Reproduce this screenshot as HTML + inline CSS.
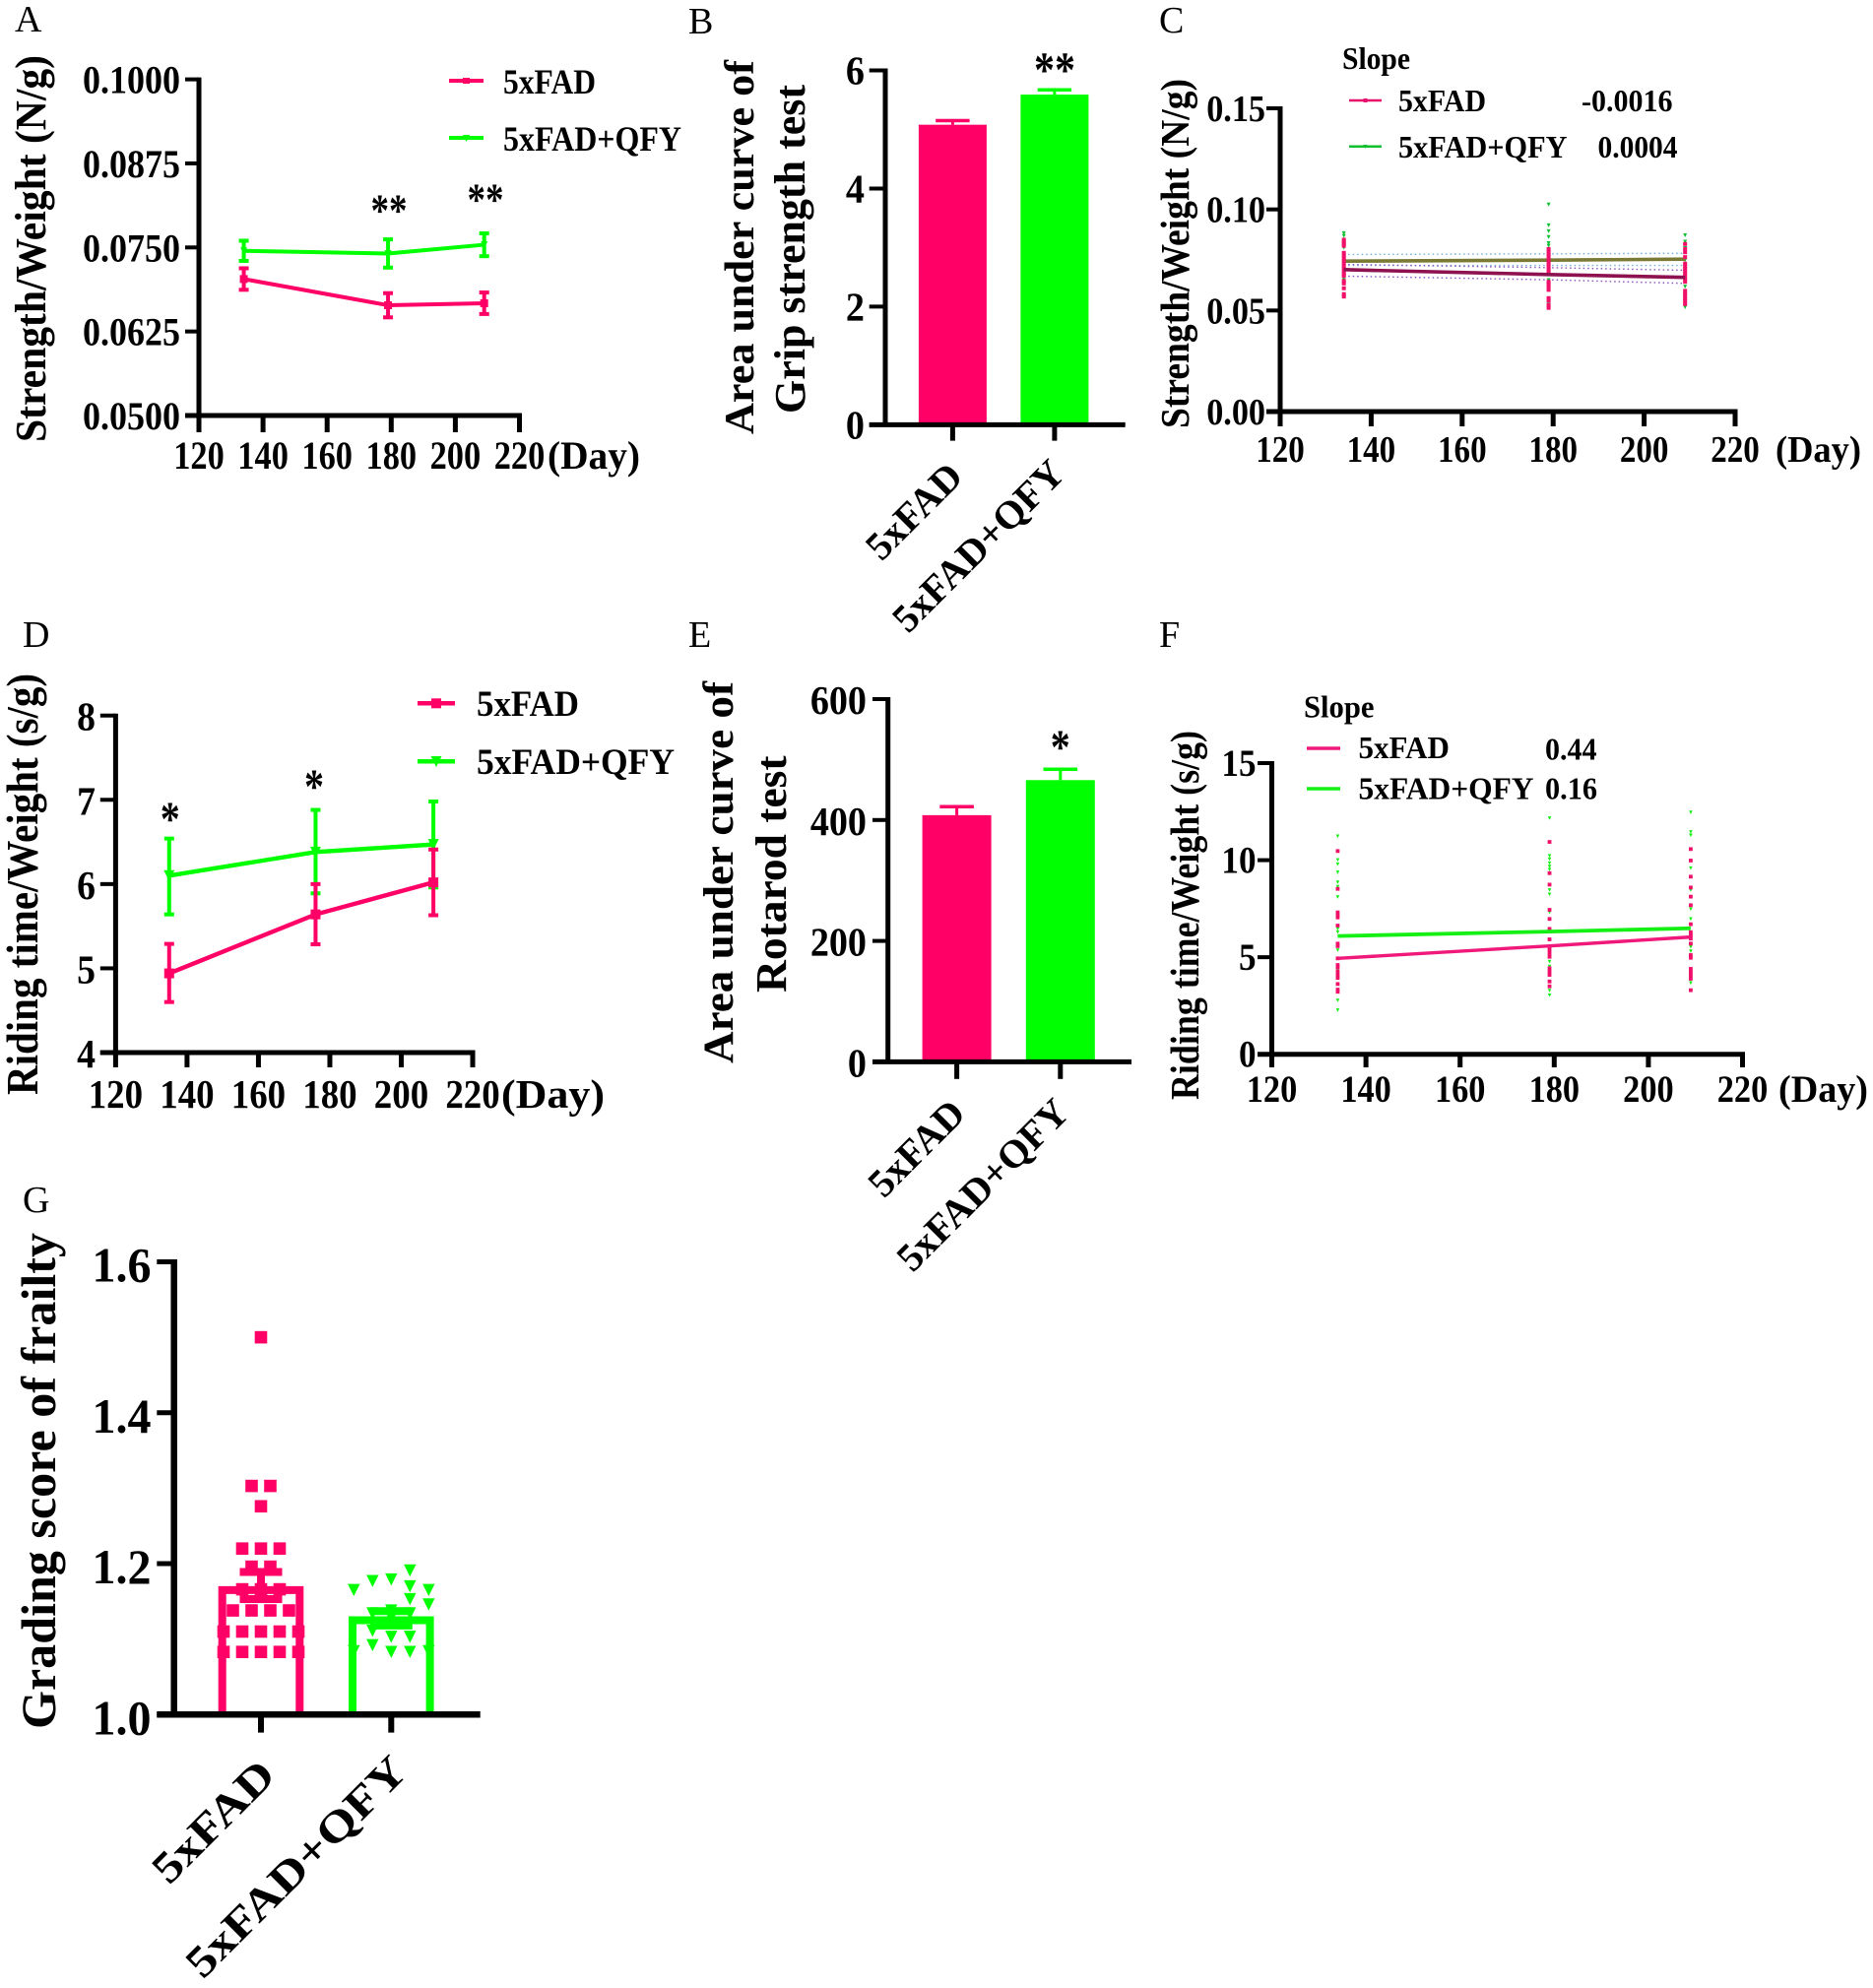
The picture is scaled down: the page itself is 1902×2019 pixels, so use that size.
<!DOCTYPE html>
<html lang="en">
<head>
<meta charset="utf-8">
<title>Grip strength, rotarod and frailty in 5xFAD mice</title>
<style>
  html, body { margin: 0; padding: 0; background: #fff; }
  svg { display: block; }
  text { font-family: "Liberation Serif", "Times New Roman", serif; fill: #000; }
  .b { font-weight: bold; }
</style>
</head>
<body>
<svg id="fig" xmlns="http://www.w3.org/2000/svg" width="1902" height="2019" viewBox="0 0 1902 2019">
  <rect x="0" y="0" width="1902" height="2019" fill="#fff"/>

  <g font-size="38">
    <text x="15" y="32">A</text>
    <text x="699" y="34">B</text>
    <text x="1177" y="33">C</text>
    <text x="23" y="657">D</text>
    <text x="699" y="657">E</text>
    <text x="1177" y="657">F</text>
    <text x="23" y="1231">G</text>
  </g>

  <g id="panel-a">
    <text class="b" font-size="44" transform="translate(46,449) rotate(-90)" textLength="393" lengthAdjust="spacingAndGlyphs">Strength/Weight (N/g)</text>
    <text class="b" font-size="40" x="556" y="476" textLength="94" lengthAdjust="spacingAndGlyphs">(Day)</text>
    <line x1="456" x2="491" y1="82" y2="82" stroke="#ff0066" stroke-width="4"/>
    <rect x="470" y="79" width="7" height="6" fill="#ff0066"/>
    <text class="b" font-size="36" x="511" y="95" textLength="94" lengthAdjust="spacingAndGlyphs">5xFAD</text>
    <line x1="456" x2="491" y1="140" y2="140" stroke="#00ff00" stroke-width="4"/>
    <polygon points="470,137 477,137 473.5,144" fill="#00ff00"/>
    <text class="b" font-size="36" x="511" y="153" textLength="181" lengthAdjust="spacingAndGlyphs">5xFAD+QFY</text>
    <text class="b" font-size="37" transform="translate(395,229) scale(1,1.25)" text-anchor="middle">**</text>
    <text class="b" font-size="37" transform="translate(493,218) scale(1,1.25)" text-anchor="middle">**</text>
  </g>

  <g id="panel-b">
    <text class="b" font-size="42" transform="translate(765,441) rotate(-90)" textLength="380" lengthAdjust="spacingAndGlyphs">Area under curve of</text>
    <text class="b" font-size="44" transform="translate(817,420) rotate(-90)" textLength="334" lengthAdjust="spacingAndGlyphs">Grip strength test</text>
    <text class="b" font-size="42" transform="translate(1071,88) scale(1,1.2)" text-anchor="middle">**</text>
    <text class="b" font-size="40" text-anchor="end" transform="translate(980,486) rotate(-45)" textLength="120" lengthAdjust="spacingAndGlyphs">5xFAD</text>
    <text class="b" font-size="40" text-anchor="end" transform="translate(1083.5,483) rotate(-45)" textLength="228" lengthAdjust="spacingAndGlyphs">5xFAD+QFY</text>
  </g>

  <g id="panel-c">
    <text class="b" font-size="41" transform="translate(1207,435) rotate(-90)" textLength="355" lengthAdjust="spacingAndGlyphs">Strength/Weight (N/g)</text>
    <text class="b" font-size="38" x="1803" y="469" textLength="87" lengthAdjust="spacingAndGlyphs">(Day)</text>
    <text class="b" font-size="32" x="1363" y="70" textLength="69" lengthAdjust="spacingAndGlyphs">Slope</text>
    <line x1="1370" x2="1403" y1="102" y2="102" stroke="#e8126e" stroke-width="2.5"/>
    <rect x="1384.5" y="100" width="4" height="4" fill="#e8126e"/>
    <text class="b" font-size="32" x="1420" y="113" textLength="89" lengthAdjust="spacingAndGlyphs">5xFAD</text>
    <text class="b" font-size="32" x="1606" y="113" textLength="92.5" lengthAdjust="spacingAndGlyphs">-0.0016</text>
    <line x1="1370" x2="1403" y1="148.7" y2="148.7" stroke="#10c030" stroke-width="2.5"/>
    <polygon points="1384.5,147 1388.5,147 1386.5,151" fill="#10c030"/>
    <text class="b" font-size="32" x="1420" y="160" textLength="171.5" lengthAdjust="spacingAndGlyphs">5xFAD+QFY</text>
    <text class="b" font-size="32" x="1622.5" y="160" textLength="81" lengthAdjust="spacingAndGlyphs">0.0004</text>
  </g>

  <g id="panel-d">
    <text class="b" font-size="45" transform="translate(38,1112) rotate(-90)" textLength="428" lengthAdjust="spacingAndGlyphs">Riding time/Weight (s/g)</text>
    <text class="b" font-size="41" x="509" y="1125" textLength="105" lengthAdjust="spacingAndGlyphs">(Day)</text>
    <line x1="424" x2="462" y1="714.3" y2="714.3" stroke="#ff0066" stroke-width="4.5"/>
    <rect x="438" y="709.3" width="10" height="10" fill="#ff0066"/>
    <text class="b" font-size="37" x="484" y="727" textLength="104" lengthAdjust="spacingAndGlyphs">5xFAD</text>
    <line x1="424" x2="462" y1="773.3" y2="773.3" stroke="#00ff00" stroke-width="4.5"/>
    <polygon points="437.5,768 448.5,768 443,779" fill="#00ff00"/>
    <text class="b" font-size="37" x="484" y="786" textLength="201" lengthAdjust="spacingAndGlyphs">5xFAD+QFY</text>
    <text class="b" font-size="40" transform="translate(172.8,848) scale(1,1.25)" text-anchor="middle">*</text>
    <text class="b" font-size="40" transform="translate(319,815) scale(1,1.25)" text-anchor="middle">*</text>
  </g>

  <g id="panel-e">
    <text class="b" font-size="43" transform="translate(744,1080) rotate(-90)" textLength="388" lengthAdjust="spacingAndGlyphs">Area under curve of</text>
    <text class="b" font-size="44" transform="translate(798,1008) rotate(-90)" textLength="240.5" lengthAdjust="spacingAndGlyphs">Rotarod test</text>
    <text class="b" font-size="40" transform="translate(1076.7,775) scale(1,1.25)" text-anchor="middle">*</text>
    <text class="b" font-size="40" text-anchor="end" transform="translate(982.5,1133) rotate(-45)" textLength="120" lengthAdjust="spacingAndGlyphs">5xFAD</text>
    <text class="b" font-size="40" text-anchor="end" transform="translate(1088,1132) rotate(-45)" textLength="228" lengthAdjust="spacingAndGlyphs">5xFAD+QFY</text>
  </g>

  <g id="panel-f">
    <text class="b" font-size="41" transform="translate(1217,1117) rotate(-90)" textLength="375" lengthAdjust="spacingAndGlyphs">Riding time/Weight (s/g)</text>
    <text class="b" font-size="39" x="1806" y="1119" textLength="91" lengthAdjust="spacingAndGlyphs">(Day)</text>
    <text class="b" font-size="32" x="1324" y="728.3" textLength="71.5" lengthAdjust="spacingAndGlyphs">Slope</text>
    <line x1="1327" x2="1361" y1="760" y2="760" stroke="#f0187a" stroke-width="3.5"/>
    <text class="b" font-size="32" x="1379.5" y="770" textLength="92.4" lengthAdjust="spacingAndGlyphs">5xFAD</text>
    <text class="b" font-size="32" x="1569" y="771.7" textLength="52.5" lengthAdjust="spacingAndGlyphs">0.44</text>
    <line x1="1327" x2="1361" y1="801" y2="801" stroke="#14f014" stroke-width="3.5"/>
    <text class="b" font-size="32" x="1379.5" y="811.7" textLength="178" lengthAdjust="spacingAndGlyphs">5xFAD+QFY</text>
    <text class="b" font-size="32" x="1569" y="811.7" textLength="53" lengthAdjust="spacingAndGlyphs">0.16</text>
  </g>

  <g id="panel-g">
    <text class="b" font-size="50" transform="translate(56,1756) rotate(-90)" textLength="504" lengthAdjust="spacingAndGlyphs">Grading score of frailty</text>
    <text class="b" font-size="44" text-anchor="end" transform="translate(282,1805) rotate(-45)" textLength="156" lengthAdjust="spacingAndGlyphs">5xFAD</text>
    <text class="b" font-size="44" text-anchor="end" transform="translate(416,1801) rotate(-45)" textLength="297" lengthAdjust="spacingAndGlyphs">5xFAD+QFY</text>
  </g>
</svg>

<script>
/* ---------- Panel A: grip strength over time ---------- */
const aDays = [134, 179, 209];
const aPinkMean = [0.0703, 0.0664, 0.0667];
const aPinkErr = [0.0016, 0.0018, 0.0016];
const aGreenMean = [0.0745, 0.0741, 0.0754];
const aGreenErr = [0.0015, 0.0021, 0.0017];
const aYTicks = ['0.0500', '0.0625', '0.0750', '0.0875', '0.1000'];
const aXTicks = ['120', '140', '160', '180', '200', '220'];

/* ---------- Panel B: grip strength AUC ---------- */
const bValues = [5.08, 5.59];
const bErrors = [0.07, 0.08];
const bYTicks = ['0', '2', '4', '6'];

/* ---------- Panel C: grip strength regression ---------- */
const cDays = [134, 179, 209];
const cXTicks = ['120', '140', '160', '180', '200', '220'];
const cYTicks = ['0.00', '0.05', '0.10', '0.15'];
const cGreenFit = [0.0744, 0.0749, 0.0754];
const cPinkFit = [0.0702, 0.0678, 0.0664];
const cGreenBandHi = [0.0777, 0.0780, 0.0783];
const cGreenBandLo = [0.0723, 0.0723, 0.0723];
const cPinkBandHi = [0.0728, 0.0712, 0.0699];
const cPinkBandLo = [0.0670, 0.0652, 0.0634];
const cGreen134 = [0.0882, 0.0869, 0.0810, 0.0775, 0.0667, 0.0650];
const cGreen179 = [0.1024, 0.0921, 0.0892, 0.0863, 0.0833, 0.0820, 0.0650, 0.0528];
const cGreen209 = [0.0872, 0.0840, 0.0809, 0.0748, 0.0618, 0.0516];
const cPink134 = [0.0850, 0.0840, 0.0830, 0.0820, 0.0785, 0.0772, 0.0759, 0.0746, 0.0733, 0.0720, 0.0707, 0.0694, 0.0681, 0.0671, 0.0646, 0.0634, 0.0610, 0.0581, 0.0569];
const cPink179 = [0.0804, 0.0791, 0.0778, 0.0765, 0.0752, 0.0739, 0.0726, 0.0713, 0.0700, 0.0687, 0.0642, 0.0630, 0.0619, 0.0602, 0.0561, 0.0548, 0.0526, 0.0513];
const cPink209 = [0.0829, 0.0804, 0.0788, 0.0764, 0.0732, 0.0720, 0.0707, 0.0694, 0.0681, 0.0668, 0.0655, 0.0642, 0.0597, 0.0584, 0.0571, 0.0558, 0.0545, 0.0532];

/* ---------- Panel D: rotarod over time ---------- */
const dDays = [135, 176, 209];
const dPinkMean = [4.94, 5.64, 6.02];
const dPinkHi = [5.29, 6.00, 6.41];
const dPinkLo = [4.60, 5.285, 5.63];
const dGreenMean = [6.10, 6.38, 6.47];
const dGreenHi = [6.54, 6.88, 6.98];
const dGreenLo = [5.64, 5.89, 5.96];
const dYTicks = ['4', '5', '6', '7', '8'];
const dXTicks = ['120', '140', '160', '180', '200', '220'];

/* ---------- Panel E: rotarod AUC ---------- */
const eValues = [408, 466];
const eErrors = [14, 18];
const eYTicks = ['0', '200', '400', '600'];

/* ---------- Panel F: rotarod regression ---------- */
const fDays = [134, 179, 209];
const fXTicks = ['120', '140', '160', '180', '200', '220'];
const fYTicks = ['0', '5', '10', '15'];
const fGreenFit = [6.09, 6.32, 6.49];
const fPinkFit = [4.94, 5.58, 6.04];
const fGreen134 = [11.23, 10.01, 9.79, 9.37, 8.86, 8.63, 8.10, 6.46, 6.29, 5.36, 4.35, 2.77, 2.27];
const fGreen179 = [12.16, 10.22, 10.05, 9.84, 9.67, 9.51, 8.46, 8.24, 7.31, 4.77, 4.52, 3.28, 3.04];
const fGreen209 = [12.46, 11.45, 11.28, 9.59, 8.46, 7.48, 6.97, 5.53, 5.31, 3.67];
const fPink134 = [10.47, 8.52, 7.31, 7.17, 7.05, 6.63, 5.70, 5.57, 4.94, 4.60, 4.47, 4.26, 4.09, 3.93, 3.62, 3.33, 3.22];
const fPink179 = [10.94, 9.33, 8.74, 7.44, 6.97, 6.46, 5.92, 5.53, 5.36, 5.19, 5.02, 4.43, 4.26, 4.09, 3.75, 3.50];
const fPink209 = [10.57, 9.98, 9.15, 8.59, 8.12, 7.68, 6.70, 6.29, 6.12, 5.96, 5.70, 5.11, 4.97, 4.40, 4.23, 4.06, 3.89, 3.30];

/* ---------- Panel G: frailty score ---------- */
const gMeans = [1.165, 1.125];
const gHi = [1.189, 1.137];
const gLo = [1.153, 1.118];
const gYTicks = ['1.0', '1.2', '1.4', '1.6'];
const gPinkScores = [1.5, 1.303, 1.303, 1.276, 1.22, 1.22, 1.22, 1.196, 1.196, 1.166, 1.166, 1.166, 1.138, 1.138, 1.138, 1.138, 1.11, 1.11, 1.11, 1.11, 1.11, 1.083, 1.083, 1.083, 1.083, 1.083];
const gPinkSwarm = [0, -0.5, 0.5, 0, -1, 0, 1, -0.5, 0.5, -1, 0, 1, -1.5, -0.5, 0.5, 1.5, -2, -1, 0, 1, 2, -2, -1, 0, 1, 2];
const gGreenScores = [1.165, 1.177, 1.179, 1.191, 1.170, 1.153, 1.165, 1.146, 1.134, 1.138, 1.134, 1.111, 1.103, 1.103, 1.092, 1.083, 1.083, 1.084, 1.084];
const gGreenSwarm = [-2, -1, 0, 1, 1, 1, 2, 2, -1, 0, 1, -1, 0, 1, -1, 0, 1, -2, 2];

const PINK = '#ff0066';
const GREEN = '#00ff00';
const NS = 'http://www.w3.org/2000/svg';

function linear(d0, d1, r0, r1) {
  return function (v) { return r0 + (v - d0) * (r1 - r0) / (d1 - d0); };
}

function mk(parent, tag, attrs, name) {
  const el = document.createElementNS(NS, tag);
  for (const k in attrs) el.setAttribute(k, attrs[k]);
  
  
  parent.appendChild(el);
  return el;
}

function seg(parent, x1, y1, x2, y2, stroke, w, name) {
  return mk(parent, 'line', { x1: x1, y1: y1, x2: x2, y2: y2, stroke: stroke, 'stroke-width': w }, name);
}

function label(parent, str, x, y, size, anchor, squeeze, name) {
  const t = mk(parent, 'text', { transform: 'translate(' + x + ',' + y + ') scale(' + squeeze + ',1)', 'font-size': size, 'font-weight': 'bold', 'text-anchor': anchor }, name);
  t.textContent = str;
  return t;
}

function square(parent, cx, cy, s, fill, name) {
  return mk(parent, 'rect', { x: cx - s / 2, y: cy - s / 2, width: s, height: s, fill: fill }, name);
}

function triangle(parent, cx, cy, s, fill, name) {
  const pts = (cx - s / 2) + ',' + (cy - s / 2) + ' ' + (cx + s / 2) + ',' + (cy - s / 2) + ' ' + cx + ',' + (cy + s / 2);
  return mk(parent, 'polygon', { points: pts, fill: fill }, name);
}

/* y axis: spine, left ticks and labels */
function yAxis(g, c, ticks, sy) {
  const axis = mk(g, 'g', {}, 'y-axis');
  seg(axis, c.xLeft, c.yTop - c.tw / 2, c.xLeft, c.yBottom, '#000', c.lw, 'y-axis-line');
  ticks.forEach(function (t) {
    const y = sy(parseFloat(t));
    seg(axis, c.tickLeft, y, c.xLeft, y, '#000', c.tw, 'y-tick');
    label(axis, t, c.yLabelX, y + c.yLabelDy, c.yFont, 'end', c.ySqueeze, 'y-tick-label');
  });
}

/* numeric x axis: spine, down ticks and centred labels */
function xAxisNumeric(g, c, ticks, sx) {
  const axis = mk(g, 'g', {}, 'x-axis');
  seg(axis, c.tickLeft, c.yBottom, c.xRight + c.lw / 2, c.yBottom, '#000', c.lw, 'x-axis-line');
  ticks.forEach(function (t) {
    const x = sx(parseFloat(t));
    seg(axis, x, c.yBottom, x, c.tickBottom, '#000', c.tw + 1, 'x-tick');
    label(axis, t, x, c.xLabelY, c.xFont, 'middle', c.xSqueeze, 'x-tick-label');
  });
}

/* line chart with mean markers and error bars */
function lineSeries(g, days, mean, lo, hi, color, sx, sy, opt) {
  const s = mk(g, 'g', {}, opt.name + '-series');
  const pts = days.map(function (d, i) { return sx(d) + ',' + sy(mean[i]); }).join(' ');
  days.forEach(function (d, i) {
    const x = sx(d);
    seg(s, x, sy(lo[i]), x, sy(hi[i]), color, opt.ew, 'error-bar');
    seg(s, x - opt.cap, sy(lo[i]), x + opt.cap, sy(lo[i]), color, opt.ew, 'error-cap-low');
    seg(s, x - opt.cap, sy(hi[i]), x + opt.cap, sy(hi[i]), color, opt.ew, 'error-cap-high');
  });
  mk(s, 'polyline', { points: pts, fill: 'none', stroke: color, 'stroke-width': opt.lw }, 'series-line');
  days.forEach(function (d, i) {
    if (opt.marker === 'square') square(s, sx(d), sy(mean[i]), opt.ms, color, 'point');
    else triangle(s, sx(d), sy(mean[i]), opt.ms, color, 'point');
  });
}

/* filled bar chart */
function barChart(c, values, errors, ticks, colors) {
  const g = document.getElementById(c.id);
  const sy = linear(0, c.yMax, c.yBottom, c.yTop);
  values.forEach(function (v, i) {
    const x = c.cat0 + i * c.catStep;
    seg(g, x, sy(v), x, sy(v + errors[i]), colors[i], 3, 'error-bar');
    seg(g, x - c.cap, sy(v + errors[i]), x + c.cap, sy(v + errors[i]), colors[i], 3.5, 'error-cap');
    const y = sy(v);
    mk(g, 'rect', { x: x - c.barW / 2, y: y, width: c.barW, height: c.yBottom - y, fill: colors[i] }, 'bar-' + i);
  });
  yAxis(g, c, ticks, sy);
  seg(g, c.tickLeft, c.yBottom, c.xRight, c.yBottom, '#000', c.lw, 'x-axis-line');
  values.forEach(function (v, i) {
    const x = c.cat0 + i * c.catStep;
    seg(g, x, c.yBottom, x, c.tickBottom, '#000', c.tw + 1, 'x-tick');
  });
}

/* regression panel: scatter, fits and confidence bands */
function scatter(g, day, vals, shape, size, color, sx, sy, name) {
  vals.forEach(function (v) {
    if (shape === 'square') square(g, sx(day), sy(v), size, color, name);
    else triangle(g, sx(day), sy(v), size, color, name);
  });
}

function polyline(g, days, vals, sx, sy, attrs, name) {
  const a = Object.assign({ fill: 'none', points: days.map(function (d, i) { return sx(d) + ',' + sy(vals[i]); }).join(' ') }, attrs);
  return mk(g, 'polyline', a, name);
}

/* ---- A ---- */
(function () {
  const c = { xLeft: 202, xRight: 527.5, yTop: 80.6, yBottom: 422, tickLeft: 188, tickBottom: 439, lw: 5, tw: 4, yLabelX: 183, yLabelDy: 14, yFont: 40, ySqueeze: 0.9, xLabelY: 476, xFont: 40, xSqueeze: 0.86 };
  const g = document.getElementById('panel-a');
  const sx = linear(120, 220, c.xLeft, c.xRight);
  const sy = linear(0.05, 0.1, c.yBottom, c.yTop);
  yAxis(g, c, aYTicks, sy);
  xAxisNumeric(g, c, aXTicks, sx);
  const bounds = function (m, e, s) { return m.map(function (v, i) { return v + s * e[i]; }); };
  lineSeries(g, aDays, aGreenMean, bounds(aGreenMean, aGreenErr, -1), bounds(aGreenMean, aGreenErr, 1), GREEN, sx, sy, { name: 'qfy', ew: 4, cap: 5, lw: 4, ms: 7, marker: 'tri' });
  lineSeries(g, aDays, aPinkMean, bounds(aPinkMean, aPinkErr, -1), bounds(aPinkMean, aPinkErr, 1), PINK, sx, sy, { name: '5xfad', ew: 4, cap: 5, lw: 4, ms: 8, marker: 'square' });
})();

/* ---- B ---- */
barChart({ id: 'panel-b', yMax: 6, yTop: 71.5, yBottom: 431.4, xLeft: 899, xRight: 1142.7, tickLeft: 882.7, tickBottom: 447.6, lw: 5, tw: 4, yLabelX: 878, yLabelDy: 14, yFont: 41, ySqueeze: 0.93, cat0: 967.4, catStep: 103.5, barW: 69, cap: 17.2 }, bValues, bErrors, bYTicks, [PINK, GREEN]);

/* ---- C ---- */
(function () {
  const c = { xLeft: 1300, xRight: 1762, yTop: 110, yBottom: 418, tickLeft: 1286, tickBottom: 433, lw: 5, tw: 4, yLabelX: 1285, yLabelDy: 13, yFont: 38, ySqueeze: 0.9, xLabelY: 469, xFont: 38, xSqueeze: 0.87 };
  const g = document.getElementById('panel-c');
  const sx = linear(120, 220, c.xLeft, c.xRight);
  const sy = linear(0, 0.15, c.yBottom, c.yTop);
  yAxis(g, c, cYTicks, sy);
  xAxisNumeric(g, c, cXTicks, sx);
  const dot = { stroke: '#6fb0d8', 'stroke-width': 1.4, 'stroke-dasharray': '1.5 3' };
  const dotP = { stroke: '#8a50c0', 'stroke-width': 1.4, 'stroke-dasharray': '1.5 3' };
  polyline(g, cDays, cGreenBandHi, sx, sy, dot, 'confidence-band-qfy-upper');
  polyline(g, cDays, cGreenBandLo, sx, sy, dot, 'confidence-band-qfy-lower');
  polyline(g, cDays, cPinkBandHi, sx, sy, dotP, 'confidence-band-5xfad-upper');
  polyline(g, cDays, cPinkBandLo, sx, sy, dotP, 'confidence-band-5xfad-lower');
  scatter(g, cDays[0], cGreen134, 'tri', 4, '#10c030', sx, sy, 'qfy-point');
  scatter(g, cDays[1], cGreen179, 'tri', 4, '#10c030', sx, sy, 'qfy-point');
  scatter(g, cDays[2], cGreen209, 'tri', 4, '#10c030', sx, sy, 'qfy-point');
  polyline(g, cDays, cGreenFit, sx, sy, { stroke: '#7a7a35', 'stroke-width': 3.6 }, 'fit-line-qfy');
  scatter(g, cDays[0], cPink134, 'square', 4, '#f0106a', sx, sy, '5xfad-point');
  scatter(g, cDays[1], cPink179, 'square', 4, '#f0106a', sx, sy, '5xfad-point');
  scatter(g, cDays[2], cPink209, 'square', 4, '#f0106a', sx, sy, '5xfad-point');
  polyline(g, cDays, cPinkFit, sx, sy, { stroke: '#8e1150', 'stroke-width': 3.6 }, 'fit-line-5xfad');
})();

/* ---- D ---- */
(function () {
  const c = { xLeft: 117.4, xRight: 480, yTop: 726.7, yBottom: 1069, tickLeft: 101.8, tickBottom: 1084, lw: 5, tw: 4, yLabelX: 97, yLabelDy: 15, yFont: 41, ySqueeze: 0.92, xLabelY: 1125, xFont: 41, xSqueeze: 0.9 };
  const g = document.getElementById('panel-d');
  const sx = linear(120, 220, c.xLeft, c.xRight);
  const sy = linear(4, 8, c.yBottom, c.yTop);
  yAxis(g, c, dYTicks, sy);
  xAxisNumeric(g, c, dXTicks, sx);
  lineSeries(g, dDays, dGreenMean, dGreenLo, dGreenHi, GREEN, sx, sy, { name: 'qfy', ew: 4, cap: 5, lw: 4.4, ms: 11, marker: 'tri' });
  lineSeries(g, dDays, dPinkMean, dPinkLo, dPinkHi, PINK, sx, sy, { name: '5xfad', ew: 4, cap: 5, lw: 4.4, ms: 10, marker: 'square' });
})();

/* ---- E ---- */
barChart({ id: 'panel-e', yMax: 600, yTop: 710, yBottom: 1078.4, xLeft: 901.7, xRight: 1149, tickLeft: 886, tickBottom: 1095.8, lw: 5, tw: 4, yLabelX: 880, yLabelDy: 15, yFont: 41, ySqueeze: 0.93, cat0: 971.6, catStep: 105.2, barW: 70, cap: 17.3 }, eValues, eErrors, eYTicks, [PINK, GREEN]);

/* ---- F ---- */
(function () {
  const c = { xLeft: 1291.5, xRight: 1769.5, yTop: 775, yBottom: 1070.7, tickLeft: 1277, tickBottom: 1084, lw: 5, tw: 4, yLabelX: 1275.5, yLabelDy: 13, yFont: 39, ySqueeze: 0.9, xLabelY: 1119, xFont: 39, xSqueeze: 0.88 };
  const g = document.getElementById('panel-f');
  const sx = linear(120, 220, c.xLeft, c.xRight);
  const sy = linear(0, 15, c.yBottom, c.yTop);
  yAxis(g, c, fYTicks, sy);
  xAxisNumeric(g, c, fXTicks, sx);
  scatter(g, fDays[0], fGreen134, 'tri', 3.6, '#14ee14', sx, sy, 'qfy-point');
  scatter(g, fDays[1], fGreen179, 'tri', 3.6, '#14ee14', sx, sy, 'qfy-point');
  scatter(g, fDays[2], fGreen209, 'tri', 3.6, '#14ee14', sx, sy, 'qfy-point');
  scatter(g, fDays[0], fPink134, 'square', 3.8, '#f0106a', sx, sy, '5xfad-point');
  scatter(g, fDays[1], fPink179, 'square', 3.8, '#f0106a', sx, sy, '5xfad-point');
  scatter(g, fDays[2], fPink209, 'square', 3.8, '#f0106a', sx, sy, '5xfad-point');
  polyline(g, fDays, fGreenFit, sx, sy, { stroke: '#14f014', 'stroke-width': 3.8 }, 'fit-line-qfy');
  polyline(g, fDays, fPinkFit, sx, sy, { stroke: '#f0187a', 'stroke-width': 3.4 }, 'fit-line-5xfad');
})();

/* ---- G ---- */
(function () {
  const c = { xLeft: 176.7, xRight: 487.7, yTop: 1281.5, yBottom: 1741.3, tickLeft: 159.3, tickBottom: 1759.6, lw: 6.5, tw: 5, yLabelX: 153.5, yLabelDy: 20, yFont: 50, ySqueeze: 0.96 };
  const g = document.getElementById('panel-g');
  const sy = linear(1, 1.6, c.yBottom, c.yTop);
  const cat = function (i) { return 265 + i * 132.3; };
  const outer = 86.6;
  const sw = 8;
  const colors = [PINK, GREEN];
  gMeans.forEach(function (m, i) {
    const x = cat(i);
    const y = sy(m);
    mk(g, 'path', { d: 'M' + (x - outer / 2 + sw / 2) + ' ' + c.yBottom + ' V' + y + ' H' + (x + outer / 2 - sw / 2) + ' V' + c.yBottom, fill: 'none', stroke: colors[i], 'stroke-width': sw }, 'bar-' + i);
    seg(g, x, sy(gLo[i]), x, sy(gHi[i]), colors[i], sw, 'error-bar');
    seg(g, x - 21.5, sy(gHi[i]), x + 21.5, sy(gHi[i]), colors[i], sw, 'error-cap-high');
    seg(g, x - 21.5, sy(gLo[i]), x + 21.5, sy(gLo[i]), colors[i], sw, 'error-cap-low');
  });
  const step = 19;
  gPinkScores.forEach(function (v, i) {
    square(g, cat(0) + gPinkSwarm[i] * step, sy(v), 12.6, PINK, '5xfad-point');
  });
  gGreenScores.forEach(function (v, i) {
    triangle(g, cat(1) + gGreenSwarm[i] * step, sy(v), 12.4, GREEN, 'qfy-point');
  });
  yAxis(g, c, gYTicks, sy);
  seg(g, c.tickLeft, c.yBottom, c.xRight, c.yBottom, '#000', c.lw, 'x-axis-line');
  gMeans.forEach(function (m, i) {
    seg(g, cat(i), c.yBottom, cat(i), c.tickBottom, '#000', c.tw + 1, 'x-tick');
  });
})();
</script>
</body>
</html>
